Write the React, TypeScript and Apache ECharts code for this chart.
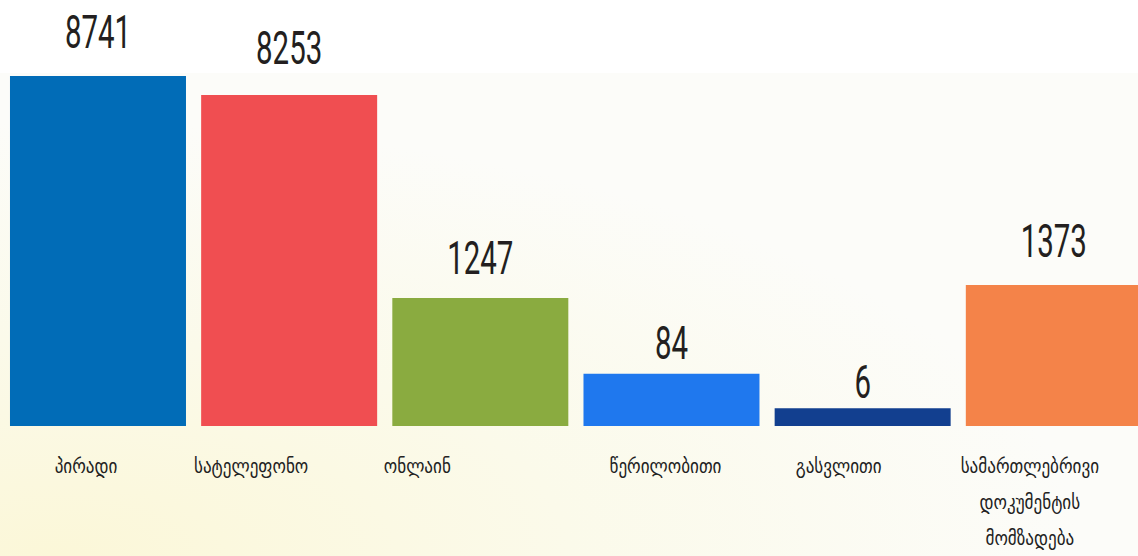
import React, { useEffect, useRef } from "react";
import * as echarts from "echarts";

// Categories (Georgian)
const categories: string[] = [
  "პირადი",
  "სატელეფონო",
  "ონლაინ",
  "წერილობითი",
  "გასვლითი",
  "სამართლებრივი\nდოკუმენტის\nმომზადება",
];

// Counts printed above the bars
const counts: number[] = [8741, 8253, 1247, 84, 6, 1373];

// Bar lengths as drawn in the infographic (percent of the tallest bar);
// the source picture does not draw the bars proportionally to the counts.
const drawnLengths: number[] = [100, 94.6, 36.6, 14.9, 5.1, 40.3];

// Styles
const barColors: string[] = ["#016cb7", "#f04e51", "#8aab40", "#1f78ee", "#123f8f", "#f48349"];
const valueLabelLift: number[] = [44.5, 46.5, 39.5, 30.5, 26, 44.5];
const categoryShift: number[] = [-12, -38, -63, -6, -24, -24];

export default function App() {
  const ref = useRef<HTMLDivElement>(null);

  useEffect(() => {
    if (!ref.current) return;
    const chart = echarts.init(ref.current, undefined, { renderer: "svg" });

    const barData = drawnLengths.map((v, i) => ({
      value: v,
      itemStyle: { color: barColors[i] },
    }));

    const rich: Record<string, any> = {};
    categoryShift.forEach((s, i) => {
      rich["s" + i] = {
        fontFamily: "DejaVu Sans Condensed",
        fontSize: 19,
        lineHeight: 36,
        color: "#222222",
        padding: s < 0 ? [0, -2 * s, 0, 0] : [0, 0, 0, 2 * s],
      };
    });

    chart.setOption({
      animation: false,
      backgroundColor: "#ffffff",
      graphic: [
        {
          type: "rect",
          left: 0,
          top: 73,
          shape: { width: 1138, height: 483 },
          silent: true,
          z: -10,
          style: {
            fill: {
              type: "radial",
              x: 0.05,
              y: 1,
              r: 0.9,
              colorStops: [
                { offset: 0, color: "#fbf7d8" },
                { offset: 0.5, color: "#fbfaea" },
                { offset: 1, color: "#fcfcf9" },
              ],
            },
          },
        },
      ],
      grid: {
        left: 2.4,
        width: 1147,
        top: 76,
        bottom: 130,
        containLabel: false,
        outerBoundsMode: "none",
      },
      xAxis: {
        type: "category",
        data: categories,
        axisLine: { show: false },
        axisTick: { show: false },
        axisLabel: {
          interval: 0,
          margin: 22,
          verticalAlign: "top",
          formatter: (val: string, idx: number) =>
            val
              .split("\n")
              .map((line) => `{s${idx}|${line}}`)
              .join("\n"),
          rich,
        },
      },
      yAxis: {
        type: "value",
        min: 0,
        max: 100,
        show: false,
        splitLine: { show: false },
      },
      series: [
        {
          type: "bar",
          data: barData,
          barWidth: 176,
        },
        {
          type: "custom",
          data: drawnLengths.map((v, i) => [i, v, counts[i]]),
          encode: { x: 0, y: 1 },
          silent: true,
          z: 5,
          renderItem: (params: any, api: any) => {
            const i = params.dataIndex;
            const pt = api.coord([api.value(0), api.value(1)]);
            return {
              type: "text",
              x: pt[0],
              y: pt[1] - valueLabelLift[i],
              scaleX: 0.64,
              style: {
                text: String(api.value(2)),
                fontFamily: "Roboto",
                fontSize: 46,
                fill: "#231f20",
                align: "center",
                verticalAlign: "middle",
              },
            };
          },
        },
      ],
    });

    return () => chart.dispose();
  }, []);

  return (
    <div
      ref={ref}
      style={{ position: "fixed", left: 0, top: 0, width: 1138, height: 556 }}
    />
  );
}
